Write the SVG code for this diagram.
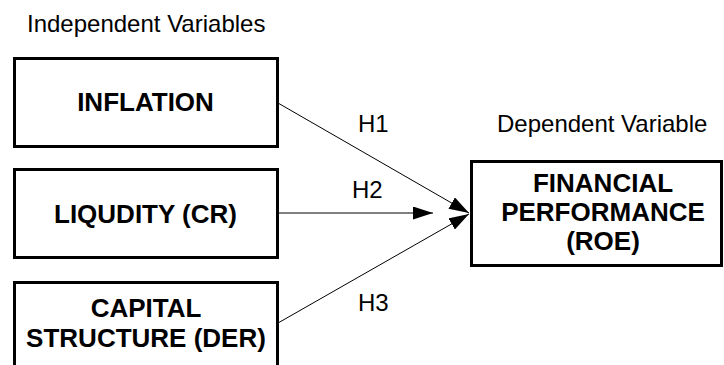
<svg xmlns="http://www.w3.org/2000/svg" width="724" height="365" viewBox="0 0 724 365">
<style>
.box{fill:#fff;stroke:#000;stroke-width:3}
.bt{font-family:"Liberation Sans",Arial,sans-serif;font-weight:bold;font-size:26px;text-anchor:middle;fill:#000}
.lt{font-family:"Liberation Sans",Arial,sans-serif;font-size:24px;fill:#000}
.conn{stroke:#000;stroke-width:1;fill:none;marker-end:url(#arr)}
</style>
<defs>
<marker id="arr" markerUnits="userSpaceOnUse" markerWidth="20" markerHeight="13" refX="20" refY="6.5" orient="auto">
<path d="M0,0 L20,6.5 L0,13 Z" fill="#000"/>
</marker>
</defs>
<rect width="724" height="365" fill="#fff"/>
<text class="lt" x="27" y="32">Independent Variables</text>
<text class="lt" x="497" y="132">Dependent Variable</text>
<g id="connectors">
<line class="conn" x1="278" y1="103" x2="469" y2="213"/>
<line class="conn" x1="278" y1="213" x2="433" y2="213"/>
<line class="conn" x1="278" y1="323" x2="469" y2="214"/>
<text class="lt" x="358" y="132">H1</text>
<text class="lt" x="352" y="198">H2</text>
<text class="lt" x="358" y="311">H3</text>
</g>
<g id="inflation">
<rect class="box" x="14.5" y="58.5" width="263" height="88"/>
<text class="bt" x="145.5" y="111">INFLATION</text>
</g>
<g id="liquidity">
<rect class="box" x="14.5" y="169.5" width="263" height="88"/>
<text class="bt" x="145.5" y="223">LIQUDITY (CR)</text>
</g>
<g id="capital">
<rect class="box" x="14.5" y="282.5" width="263" height="95"/>
<text class="bt" x="146" y="317">CAPITAL</text>
<text class="bt" x="146" y="347">STRUCTURE (DER)</text>
</g>
<g id="financial">
<rect class="box" x="471.5" y="161.5" width="250" height="104"/>
<text class="bt" x="603" y="192">FINANCIAL</text>
<text class="bt" x="603" y="221">PERFORMANCE</text>
<text class="bt" x="603" y="250">(ROE)</text>
</g>
</svg>
